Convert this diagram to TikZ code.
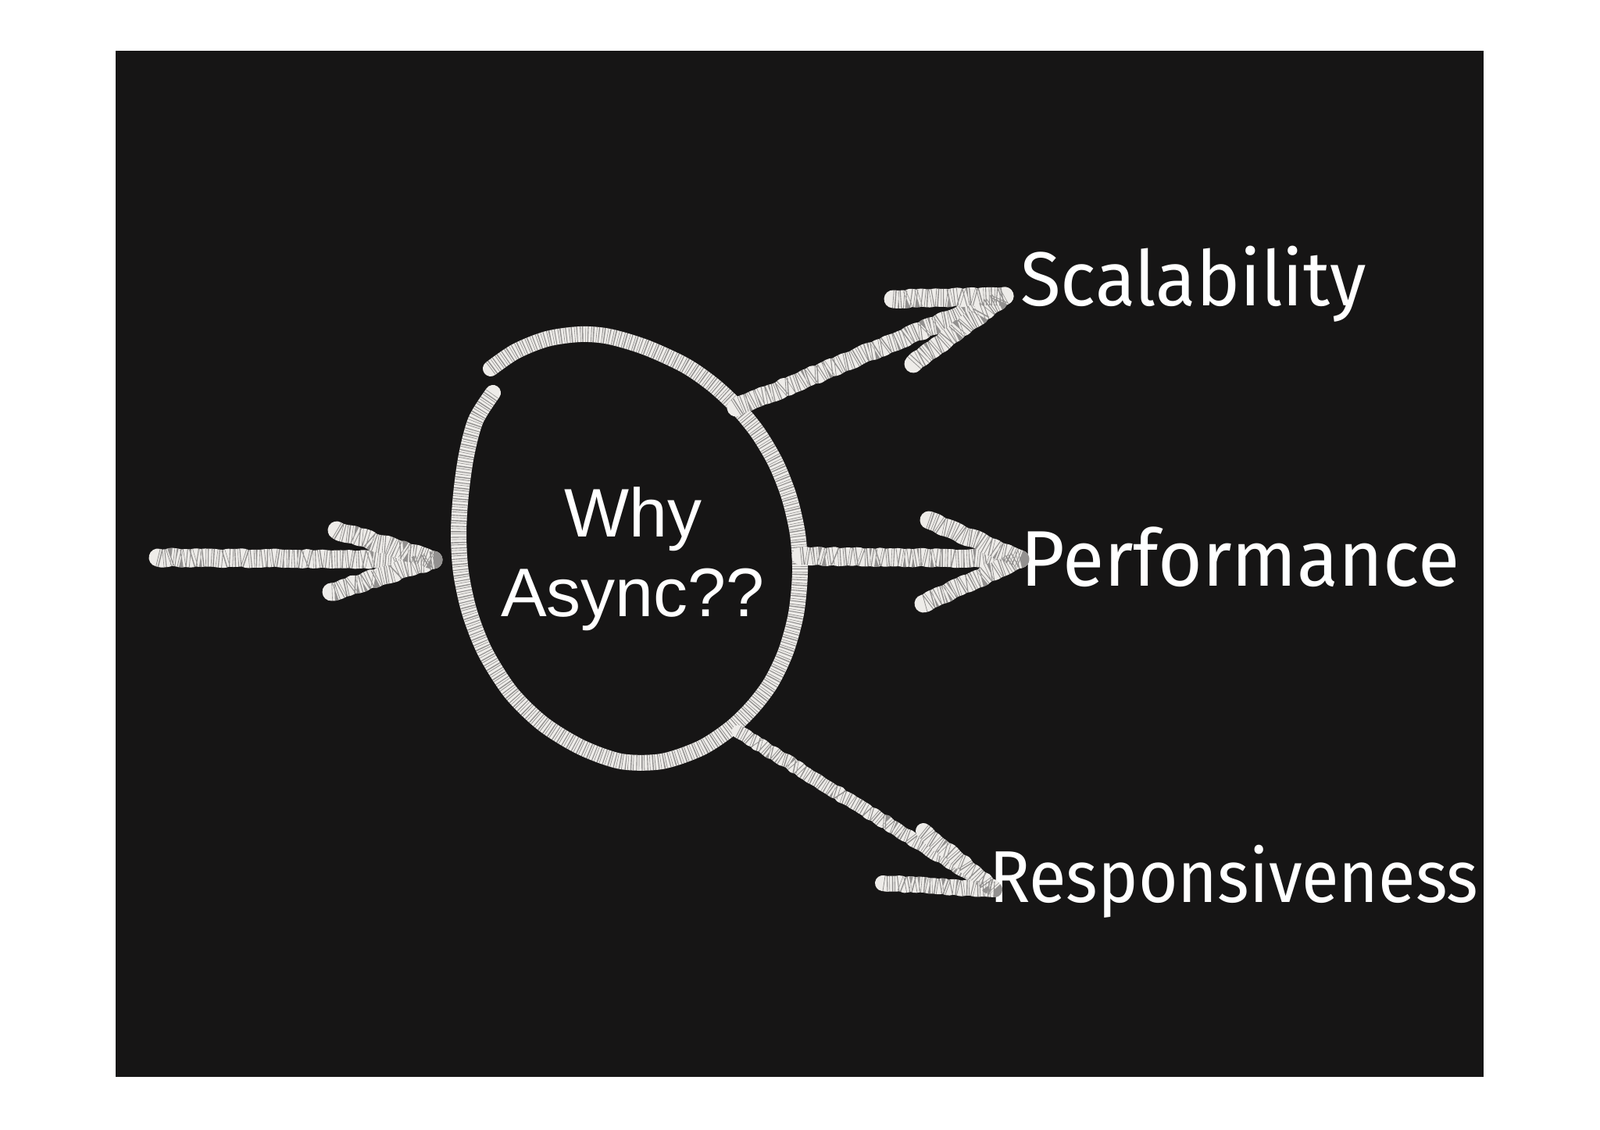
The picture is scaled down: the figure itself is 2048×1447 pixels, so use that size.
\documentclass[tikz,border=0pt]{standalone}
\usepackage{fontspec}
\setmainfont{Fira Sans}
\newfontfamily\lblf[FakeStretch=0.965]{Fira Sans}
\newfontfamily\lblr[FakeStretch=0.925]{Fira Sans}
\newfontfamily\arialf{Liberation Sans}
\usetikzlibrary{decorations.pathmorphing}
\definecolor{board}{RGB}{22,21,21}
\definecolor{chalkc}{RGB}{238,236,233}
\begin{document}
\begin{tikzpicture}[x=1pt,y=1pt,
  chalkw/.style={line width=#1, draw=chalkc, line cap=round, line join=round,
    postaction={draw=board, line width=#1, line cap=butt,
      dash pattern=on 0.8pt off 1.7pt on 1.4pt off 2.9pt on 0.6pt off 2.1pt on 1.1pt off 3.3pt, opacity=0.42}},
  chalk/.style={chalkw=23pt},
  rough/.style={chalk, decorate, decoration={random steps, segment length=6pt, amplitude=1.3pt}},
  roughw/.style={chalkw=#1, decorate, decoration={random steps, segment length=6pt, amplitude=1.3pt}},
  lbl/.style={text=white, font=\lblf\fontsize{98}{110}\selectfont, anchor=base west, inner sep=0pt},
  qtext/.style={text=white, font=\arialf\fontsize{88}{102}\selectfont, align=center, inner sep=0pt}
]
\useasboundingbox (0,0) rectangle (2048,1447);
\fill[white] (0,0) rectangle (2048,1447);
\fill[board] (148,68) rectangle (1899,1382);

% centre question
\node[qtext] (q) at (810,731) {Why\\Async??};

% chalk ellipse with a gap at top-left (traced, y measured downwards)
\begin{scope}[shift={(0,1447)}, y=-1pt]
\draw[chalkw=20pt] plot[smooth, tension=0.5] coordinates {
  (628,472) (660,450) (700,434) (743,428) (780,431) (827,445) (877,468)
  (913,493) (943,521) (970,554) (993,593) (1010,636) (1021,684) (1024,733)
  (1019,786) (1006,834) (987,874) (963,906) (935,933) (897,958) (847,975)
  (795,975) (744,957) (695,927) (654,887) (621,835) (601,784) (590,733)
  (587,683) (590,633) (597,583) (609,538) (631,503)};
\end{scope}

% labels
\node[lbl] (s) at (1306,1055) {Scalability};
\node[lbl, font=\lblf\fontsize{101}{112}\selectfont] (p) at (1306,696) {Performance};
\node[lbl, font=\lblr\fontsize{94}{106}\selectfont] (r) at (1266,291) {Responsiveness};

% coordinates of arrows
\coordinate (inT) at (202,733);
\coordinate (inH) at (555,730);
\coordinate (inB1) at (431,768);
\coordinate (inB2) at (424,689);

\coordinate (sT) at (942,925);
\coordinate (sH) at (1286,1068);
\coordinate (sB1) at (1143,1064);
\coordinate (sB2) at (1169,981);

\coordinate (pT) at (1025,735);
\coordinate (pH) at (1306,731);
\coordinate (pB1) at (1189,781);
\coordinate (pB2) at (1182,674);

\coordinate (rT) at (945,510);
\coordinate (rH) at (1273,308);
\coordinate (rB1) at (1182,383);
\coordinate (rB2) at (1130,316);

% arrows
\draw[rough] (inT) -- (inH);
\draw[rough] (inB1) -- (inH) -- (inB2);
\draw[rough] (sT) -- (sH);
\draw[rough] (sB1) -- (sH) -- (sB2);
\draw[rough] (pT) -- (pH);
\draw[rough] (pB1) -- (pH) -- (pB2);
\draw[roughw=17pt] (rT) -- (rH);
\draw[roughw=20pt] (rB1) -- (rH) -- (rB2);
\end{tikzpicture}
\end{document}
